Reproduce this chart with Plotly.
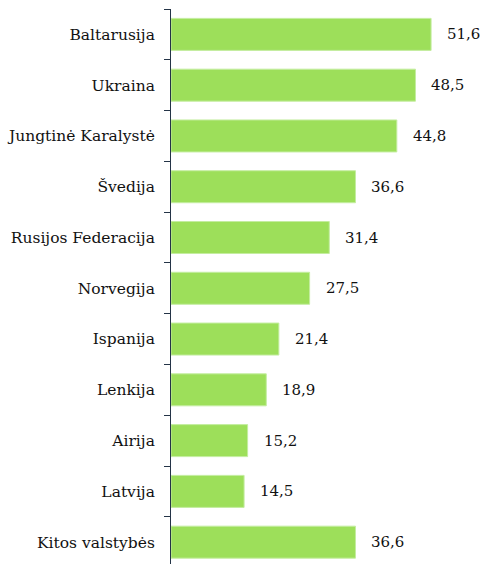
import plotly.graph_objects as go

categories = ["Baltarusija", "Ukraina", "Jungtinė Karalystė", "Švedija", "Rusijos Federacija",
              "Norvegija", "Ispanija", "Lenkija", "Airija", "Latvija", "Kitos valstybės"]
values = [51.6, 48.5, 44.8, 36.6, 31.4, 27.5, 21.4, 18.9, 15.2, 14.5, 36.6]
labels = ["51,6", "48,5", "44,8", "36,6", "31,4", "27,5", "21,4", "18,9", "15,2", "14,5", "36,6"]

FONT = "DejaVu Serif"

fig = go.Figure(go.Bar(
    y=categories, x=values, orientation="h",
    marker=dict(color="#9DDF5A", line=dict(color="#C4EDA0", width=1)),
    width=0.63,
))

for c, v, t in zip(categories, values, labels):
    fig.add_annotation(x=v, y=c, text=t, showarrow=False, xanchor="left", xshift=14,
                       font=dict(family=FONT, size=15, color="#111111"))

fig.update_layout(
    width=482, height=564,
    margin=dict(l=171, r=0, t=9, b=0),
    plot_bgcolor="white", paper_bgcolor="white",
    showlegend=False,
    xaxis=dict(range=[0, 61.7], visible=False),
    yaxis=dict(range=[10.43, -0.5], showline=True, linecolor="#243447", linewidth=1,
               ticks="outside", tickson="boundaries", ticklen=6, tickcolor="#243447",
               ticklabelstandoff=12, showgrid=False,
               tickfont=dict(family=FONT, size=15.5, color="#111111")),
)

fig.write_html("out.html")
